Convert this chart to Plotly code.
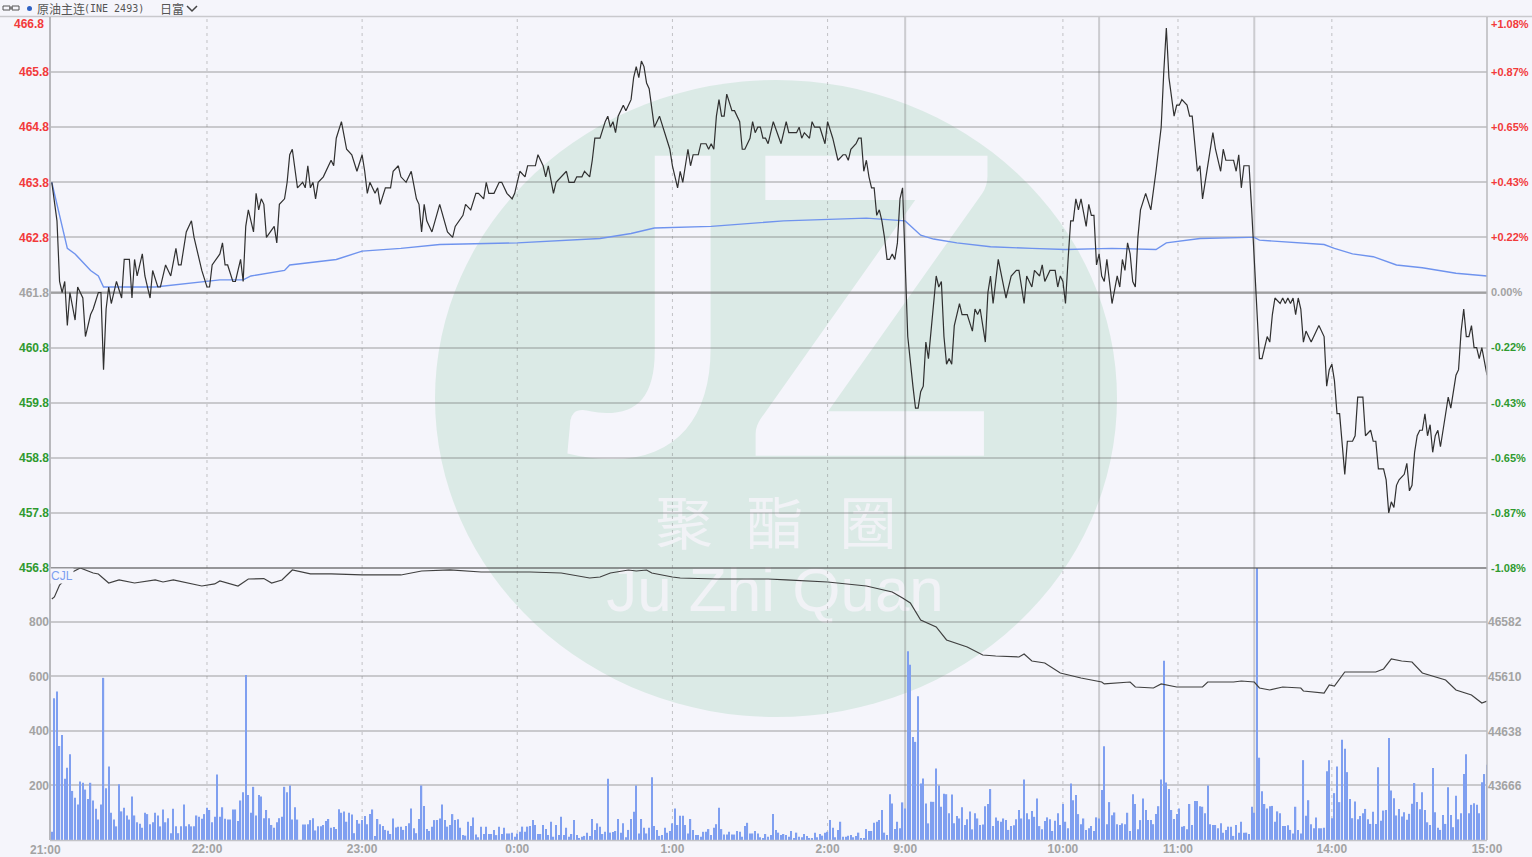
import plotly.graph_objects as go

BG = "#f5f5fb"
RED = "#f23a3a"
GREEN = "#2f9a2f"
GREY = "#a3a3a3"

price_min = [0,2,3,4,5,6,7,9,10,12,13,15,16,18,19,20,21,22,23,25,27,28,30,31,32,33,35,36,38,39,41,42,44,46,48,49,50,52,54,55,58,60,61,62,65,66,67,68,70,71,73,74,75,76,78,79,80,81,82,83,86,87,88,90,91,92,93,95,97,98,99,100,
 101,102,103,105,108,109,110,112,114,116,118,120,121,122,123,125,126,127,129,131,132,134,135,137,139,141,142,143,144,145,147,150,153,155,156,159,160,162,164,165,167,168,169,171,173,174,176,178,179,181,183,184,187,188,190,191,192,194,195,197,199,200,202,203,205,206,208,209,210,212,
 214,215,216,217,218,219,221,222,224,225,226,227,228,229,230,231,232,233,235,237,239,240,242,243,244,245,246,247,248,250,251,253,254,255,256,257,258,259,260,261,263,264,266,267,268,270,271,272,273,274,275,276,277,279,282,284,285,288,289,290,291,293,294,295,297,299,300,302,303,304,306,307,308,309,311,312,313,314,315,316,317,318,319,320,321,322,323,324,325,326,327,328,329,
 330,331,333,334,335,336,337,338,339,340,342,343,344,345,346,347,348,349,351,352,354,356,357,358,359,361,362,363,364,366,369,371,373,374,376,377,379,380,382,383,384,386,388,389,390,391,392,393,394,395,396,397,398,400,401,402,403,404,405,406,407,408,410,412,413,414,415,416,417,418,419,420,421,423,425,427,429,430,431,432,433,434,435,436,437,439,440,441,443,444,445,447,449,450,452,453,454,457,458,459,460,461,463,464,
 465,466,467,468,470,471,472,473,475,476,477,478,479,480,481,482,483,484,485,487,490,492,493,494,495,496,497,498,499,500,501,503,504,505,507,508,510,511,512,513,515,516,517,518,519,520,521,523,524,525,526,527,528,529,530,531,532,533,534,535,536,537,539,540,541,543,544,545,546,547,548,549,550,551,552,553,555]
price_val = [463.8,463.1,462.0,461.8,462.0,461.2,461.8,461.3,461.9,461.7,461.0,461.4,461.5,461.8,461.8,460.4,461.5,461.9,461.6,462.0,461.7,462.4,462.4,461.7,462.4,462.1,462.5,462.1,461.7,462.2,461.9,461.9,462.3,462.1,462.6,462.3,462.3,462.9,463.1,462.8,462.2,461.9,461.9,462.3,462.5,462.7,462.3,462.3,462.0,462.0,462.4,462.0,463.0,463.3,462.9,463.6,463.3,463.5,463.4,462.8,463.0,462.7,463.4,463.5,463.8,464.3,464.4,463.7,463.8,463.7,464.1,463.7,
 463.8,463.5,463.8,463.9,464.2,464.1,464.6,464.9,464.4,464.3,464.0,464.3,464.0,463.6,463.8,463.6,463.7,463.4,463.7,463.7,464.0,464.1,463.9,463.8,464.0,463.5,463.4,462.9,463.4,463.1,462.9,463.4,462.9,462.8,463.0,463.2,463.4,463.3,463.6,463.6,463.5,463.8,463.6,463.6,463.8,463.8,463.6,463.5,463.6,464.0,463.9,464.1,464.1,464.3,464.1,463.9,464.1,463.6,463.8,463.9,464.0,463.8,463.8,463.9,463.9,464.0,463.9,464.2,464.6,464.6,
 464.9,465.0,464.8,464.9,464.7,465.0,465.2,465.1,465.3,465.7,465.9,465.7,466.0,465.9,465.6,465.5,465.1,464.8,465.0,464.7,464.4,464.1,463.7,464.0,463.8,464.1,464.4,464.1,464.3,464.3,464.5,464.5,464.4,464.5,464.4,465.0,465.3,465.0,465.0,465.4,465.1,465.1,464.9,464.4,464.4,464.6,464.9,464.7,464.8,464.8,464.6,464.6,464.5,464.9,464.5,464.9,464.7,464.7,464.8,464.6,464.7,464.6,464.9,464.8,464.8,464.5,464.9,464.6,464.4,464.2,464.3,464.3,464.2,464.4,464.5,464.6,464.6,464.0,464.2,463.9,463.7,463.7,463.2,463.3,463.1,462.8,462.4,462.4,462.5,462.4,462.7,463.5,463.7,
 462.3,461.0,460.1,459.7,459.7,460.0,460.1,460.9,460.6,461.1,462.1,461.9,462.0,461.0,460.5,460.6,460.5,461.2,461.6,461.4,461.4,461.1,461.5,461.4,461.5,460.9,461.8,462.1,461.6,462.4,461.7,462.1,462.2,462.2,461.6,462.1,461.9,462.2,462.1,462.3,462.0,462.2,462.2,461.9,462.1,462.0,461.6,462.4,463.1,463.1,463.5,463.3,463.5,463.0,463.4,463.2,463.2,462.3,462.5,462.1,462.0,462.4,461.6,462.1,461.9,462.4,462.2,462.7,462.5,462.0,461.9,462.8,463.3,463.6,463.3,464.0,464.8,465.8,466.6,465.7,465.3,465.0,465.2,465.2,465.3,465.2,465.0,465.0,464.0,464.1,463.5,464.1,464.7,464.4,464.0,464.4,464.2,464.2,464.0,464.3,463.7,464.1,464.1,463.3,
 462.4,461.4,460.6,460.6,461.0,460.9,461.4,461.7,461.6,461.7,461.6,461.7,461.6,461.7,461.4,461.7,461.5,460.9,461.1,460.9,461.2,461.0,460.1,460.4,460.5,460.2,459.6,459.6,459.0,458.5,459.1,459.1,459.2,459.9,459.9,459.2,459.3,459.1,459.1,458.6,458.6,458.4,457.8,458.0,457.9,458.3,458.4,458.5,458.7,458.2,458.3,458.9,459.2,459.3,459.3,459.6,459.2,459.4,458.9,459.2,459.3,459.0,459.6,459.9,459.7,460.3,460.4,461.1,461.5,461.0,461.0,461.2,460.8,460.8,460.6,460.8,460.3]

avg_min = [0,4,6,9,15,18,20,40,50,60,65,74,77,90,92,110,120,135,150,180,212,224,233,255,283,315,330,336,341,350,363,379,392,410,427,431,444,463,465,467,483,492,496,503,511,520,530,543,555]
avg_val = [463.8,463.0,462.6,462.5,462.2,462.1,461.9,461.9,461.95,462.0,462.03,462.03,462.1,462.2,462.3,462.4,462.55,462.6,462.67,462.7,462.78,462.87,462.97,463.0,463.1,463.15,463.1,462.84,462.77,462.7,462.63,462.6,462.58,462.6,462.58,462.7,462.78,462.8,462.8,462.75,462.7,462.67,462.6,462.5,462.45,462.3,462.25,462.15,462.1]

oi_min = [0,1,3,8,11,16,18,22,26,32,40,43,47,53,58,63,65,72,76,82,85,89,93,100,108,120,135,143,154,166,185,197,208,212,216,223,226,230,232,240,243,257,277,284,300,315,325,329,332,336,342,346,354,360,365,374,376,379,384,390,398,406,407,417,419,426,429,435,445,447,457,460,465,467,471,476,483,484,492,494,496,500,506,512,515,518,522,526,530,539,543,549,553,555]
oi_val = [46995,47030,47244,47475,47546,47457,47440,47279,47333,47279,47333,47297,47333,47279,47226,47262,47315,47226,47350,47358,47279,47333,47511,47440,47440,47422,47422,47493,47511,47475,47475,47457,47368,47386,47457,47510,47493,47510,47457,47386,47368,47350,47350,47333,47297,47226,47119,47012,46923,46621,46496,46265,46140,45998,45980,45962,46016,45891,45855,45677,45588,45517,45482,45517,45428,45410,45482,45428,45428,45517,45517,45535,45517,45410,45375,45428,45410,45357,45321,45464,45446,45695,45695,45695,45749,45927,45891,45873,45677,45553,45375,45286,45143,45179]

vol_a_start = 0
vol_a = [30,520,545,345,385,225,265,315,180,155,130,215,210,185,150,210,145,115,75,130,595,190,270,100,75,50,205,105,118,90,75,160,90,65,60,45,100,95,58,65,100,90,50,112,65,80,25,115,50,25,50,130,50,58,50,50,90,85,78,95,118,110,65,85,240,85,120,78,75,75,112,112,70,145,175,605,165,100,195,90,165,
 160,80,110,80,55,45,65,80,85,195,175,200,75,120,75]
vol_b_start = 97
vol_b = [57,57,58,73,80,35,50,50,55,70,77,45,48,40,113,100,105,67,100,94,25,73,60,73,88,58,95,112,15,77,58,51,37,34,22,79,46,49,49,37,51,61,116,43,25,77,200,125,40,33,49,73,73,79,130,73,49,55,95,73,76,45,18,16,67,51,83,20,10,49,22,49,22,22,37,18,49,22,45,24,24,27,12,24,30,49,30,49,51,73,55,22,22,55,40,18,67,12,55,18,85,18,45,12,22,73,18,6,12,15,27,15,77,37,61,49,22,30,225,27,29,33,77,27,61,10,37,77,104,200,24,77,45,24,45,230,51,37,15,18,45,27,33,61,116,55,89,89,55,24,77,37,18,18,12,30,30,40,18,45,58,118,40,20,20,30,20,20,33,30,12,51,63,24,24,33,24,10,6,22,12,18,95,37,27,18,22,18,12,33,6,27,12,10,22,15,6,6,27,10,22,16,27,30,73,45,10,37,67,12,12,16,18,10,15,27,5,6,40,33,33,63,67,73,110,27,18,168,134,40,67,43,138,116,57]
vol_c_start = 331
vol_c = [693,643,378,360,527,207,226,134,61,140,140,262,200,122,170,168,98,167,61,88,79,120,55,76,105,39,98,79,55,57,124,132,187,51,83,71,67,79,73,37,51,54,76,110,79,222,98,76,106,85,152,51,39,70,83,76,33,71,98,55,132,67,43,207,146,165,95,58,79,37,43,51,33,83,79,183,344,58,139,91,101,58,55,61,58,100,33,168,132,39,73,152,110,73,73,58,95,124,222]
vol_d_start = 430
vol_d = [658,211,187,110,77,95,116,49,51,39,132,55,143,143,124,122,98,200,58,55,55,43,61,27,37,49,49,15,55,27,67,27,27,22,122,100]
vol_e_start = 466
vol_e = [998,302,179,132,116,124,125,67,105,98,51,51,54,37,24,122,37,24,293,89,146,58,43,83,43,43,45,252,293]
vol_f_start = 495
vol_f = [80,172,270,139,368,335,249,150,80,141,76,88,98,114,76,59,104,59,267,71,108,110,374,182,153,90,114,86,102,74,96,133,209,139,113,175,110,65,55,264,102,45,37,92,59,194,92,47,162,76,98,242,315,98,129,135,129,98,212,242,276]

vol_runs = [(vol_a_start, vol_a), (vol_b_start, vol_b), (vol_c_start, vol_c),
            (vol_d_start, vol_d), (vol_e_start, vol_e), (vol_f_start, vol_f)]
vol_x, vol_y = [], []
for start, run in vol_runs:
    vol_x += [start + i for i in range(len(run))]
    vol_y += run

price_ticks = [456.8, 457.8, 458.8, 459.8, 460.8, 461.8, 462.8, 463.8, 464.8, 465.8]
pct_labels = ["-1.08%", "-0.87%", "-0.65%", "-0.43%", "-0.22%", "0.00%", "+0.22%", "+0.43%", "+0.65%", "+0.87%"]
vol_ticks = [200, 400, 600, 800]
oi_ticks = [43666, 44638, 45610, 46582]
hour_min = [60, 120, 180, 240, 300, 391, 435.5, 495]
session_min = [330, 405, 465]
time_vals = [60, 120, 180, 240, 300, 330, 391, 435.5, 495, 555]
time_text = ["22:00", "23:00", "0:00", "1:00", "2:00", "9:00", "10:00", "11:00", "14:00", "15:00"]


def px(x):
    return (x - 50) / 1437


def py(y):
    return (840 - y) / 823


def col(v, text):
    c = RED if v > 461.8 else (GREEN if v < 461.8 else GREY)
    return f'<span style="color:{c}"><b>{text}</b></span>'


fig = go.Figure()

# Watermark lives in the first subplot, so every grid line of the real panes passes over it
fig.add_trace(go.Scatter(x=[652, 873], y=[352, 352], mode="text", text=["J", "Z"], xaxis="x", yaxis="y",
                         textfont=dict(family="Lato", size=415, color=BG, weight="bold"),
                         textposition="middle center", hoverinfo="skip", showlegend=False, cliponaxis=False))
fig.add_trace(go.Scatter(x=[684, 775, 868], y=[530, 530, 530], mode="text", text=["聚", "酯", "圈"], xaxis="x", yaxis="y",
                         textfont=dict(family="Noto Sans CJK SC", size=57, color="#f1f2f6"),
                         textposition="middle center", hoverinfo="skip", showlegend=False, cliponaxis=False))
fig.add_trace(go.Scatter(x=[775], y=[595], mode="text", text=["Ju Zhi Quan"], xaxis="x", yaxis="y",
                         textfont=dict(family="Liberation Sans", size=62, color="#f1f2f6"),
                         textposition="middle center", hoverinfo="skip", showlegend=False, cliponaxis=False))

fig.add_trace(go.Scatter(x=avg_min, y=avg_val, mode="lines", xaxis="x2", yaxis="y2",
                         line=dict(color="#6f93ee", width=1.4), hoverinfo="skip", showlegend=False))
fig.add_trace(go.Scatter(x=price_min, y=price_val, mode="lines", xaxis="x2", yaxis="y5",
                         line=dict(color="#303030", width=1.2), hoverinfo="skip", showlegend=False))
fig.add_trace(go.Bar(x=vol_x, y=vol_y, xaxis="x2", yaxis="y3", width=0.5,
                     marker=dict(color="#7f9ff0", line=dict(width=0)), hoverinfo="skip", showlegend=False))
fig.add_trace(go.Scatter(x=oi_min, y=oi_val, mode="lines", xaxis="x2", yaxis="y4",
                         line=dict(color="#404040", width=1.2), hoverinfo="skip", showlegend=False))

GRID = "rgba(110,110,110,0.32)"
shapes = [dict(type="circle", xref="x", yref="y", x0=435, x1=1117, y0=80, y1=717,
               fillcolor="#dbeae6", line=dict(width=0), layer="below")]
for m in hour_min:
    for yr, lo, hi in (("y2", 456.8, 466.8), ("y3", 0, 998)):
        shapes.append(dict(type="line", xref="x2", yref=yr, x0=m, x1=m, y0=lo, y1=hi, layer="below",
                           line=dict(color="rgba(110,110,110,0.38)", width=1, dash="3px,4px")))
for m in session_min:
    for yr, lo, hi in (("y2", 456.8, 466.8), ("y3", 0, 998)):
        shapes.append(dict(type="line", xref="x2", yref=yr, x0=m, x1=m, y0=lo, y1=hi, layer="below",
                           line=dict(color="rgba(110,110,110,0.3)", width=2)))
shapes.append(dict(type="line", xref="x2", yref="y2", x0=-0.7, x1=555, y0=461.8, y1=461.8, layer="below",
                   line=dict(color="rgba(110,110,110,0.45)", width=2.5)))
# frame
shapes += [
    dict(type="line", xref="paper", yref="paper", x0=px(50), x1=px(1487), y0=py(568), y1=py(568), line=dict(color="rgba(90,90,90,0.62)", width=2)),
    dict(type="line", xref="paper", yref="paper", x0=px(0), x1=px(1532), y0=py(16.5), y1=py(16.5), line=dict(color="#c9c9cd", width=1.5)),
    dict(type="line", xref="paper", yref="paper", x0=px(50), x1=px(50), y0=py(17), y1=py(840), line=dict(color="#b8b8bc", width=2)),
    dict(type="line", xref="paper", yref="paper", x0=px(1487), x1=px(1487), y0=py(17), y1=py(840), line=dict(color="#b8b8bc", width=1.5)),
    dict(type="line", xref="paper", yref="paper", x0=px(50), x1=px(1487), y0=py(840.5), y1=py(840.5), line=dict(color="#c4c4c8", width=1.5)),
    # chain icon
    dict(type="rect", xref="paper", yref="paper", x0=px(3), x1=px(10), y0=py(6), y1=py(10), line=dict(color="#555", width=1)),
    dict(type="rect", xref="paper", yref="paper", x0=px(12), x1=px(19), y0=py(6), y1=py(10), line=dict(color="#555", width=1)),
    dict(type="line", xref="paper", yref="paper", x0=px(9), x1=px(13), y0=py(8), y1=py(8), line=dict(color="#555", width=1)),
    # status dot and chevron
    dict(type="circle", xref="paper", yref="paper", x0=px(27), x1=px(32), y0=py(6), y1=py(11), fillcolor="#2f62c4", line=dict(width=0)),
    dict(type="path", xref="paper", yref="paper",
         path=f"M {px(187)} {py(6)} L {px(192)} {py(11)} L {px(197)} {py(6)}", line=dict(color="#444", width=1.5)),
]

LABEL = dict(family="Liberation Sans", size=12)
annotations = [
    dict(xref="paper", yref="paper", x=px(46), y=py(24), text=f'<span style="color:{RED}"><b>466.8</b></span>',
         xanchor="right", yanchor="middle", showarrow=False, font=LABEL),
    dict(xref="paper", yref="paper", x=px(1489), y=py(24), text=f'<span style="color:{RED}"><b>+1.08%</b></span>',
         xanchor="left", yanchor="middle", showarrow=False, font=dict(family="Liberation Sans", size=11)),
    dict(xref="paper", yref="paper", x=px(45), y=py(850), text=f'<span style="color:{GREY}"><b>21:00</b></span>',
         xanchor="center", yanchor="middle", showarrow=False, font=LABEL),
    dict(xref="paper", yref="paper", x=px(50), y=py(576), text="CJL", xanchor="left", yanchor="middle", showarrow=False,
         bgcolor=BG, borderpad=0, font=dict(family="Liberation Sans", size=12, color="#7d9ff0")),
    dict(xref="paper", yref="paper", x=px(35), y=py(8), xanchor="left", yanchor="middle", showarrow=False,
         text="原油主连", font=dict(family="Noto Sans CJK SC", size=12, color="#555")),
    dict(xref="paper", yref="paper", x=px(82), y=py(8), xanchor="left", yanchor="middle", showarrow=False,
         text="(INE 2493)", font=dict(family="DejaVu Sans Mono", size=10, color="#555")),
    dict(xref="paper", yref="paper", x=px(158), y=py(8), xanchor="left", yanchor="middle", showarrow=False,
         text="日富", font=dict(family="Noto Sans CJK SC", size=12, color="#555")),
]

fig.update_layout(
    width=1532, height=857, autosize=False,
    margin=dict(l=50, r=45, t=17, b=17, pad=0),
    paper_bgcolor=BG, plot_bgcolor="rgba(0,0,0,0)",
    barmode="overlay", hovermode=False, showlegend=False,
    shapes=shapes, annotations=annotations,
    xaxis=dict(domain=[0, 1], range=[50, 1487], visible=False, fixedrange=True, automargin=False),
    yaxis=dict(domain=[0, 1], range=[840, 17], visible=False, fixedrange=True, automargin=False),
    xaxis2=dict(domain=[0, 1], range=[-0.7, 555], anchor="y3", showgrid=False, zeroline=False, showline=False, automargin=False,
                tickmode="array", tickvals=time_vals,
                ticktext=[f'<b>{t}</b>' for t in time_text],
                tickfont=dict(family="Liberation Sans", size=12, color=GREY), ticks="", tickangle=0, fixedrange=True),
    yaxis2=dict(domain=[272 / 823, 1], range=[456.8, 466.8], anchor="x2", side="left", automargin=False,
                tickmode="array", tickvals=price_ticks,
                ticktext=[col(v, f"{v:.1f}") for v in price_ticks],
                tickfont=LABEL, ticks="", showgrid=True, gridcolor=GRID, gridwidth=1.5, zeroline=False, fixedrange=True),
    yaxis5=dict(overlaying="y2", range=[456.8, 466.8], anchor="x2", side="right", automargin=False,
                tickmode="array", tickvals=price_ticks, ticklabelstandoff=3,
                ticktext=[col(v, t) for v, t in zip(price_ticks, pct_labels)],
                tickfont=dict(family="Liberation Sans", size=11), ticks="", showgrid=False, zeroline=False, fixedrange=True),
    yaxis3=dict(domain=[0, 272 / 823], range=[0, 998], anchor="x2", side="left", automargin=False,
                tickmode="array", tickvals=vol_ticks, ticktext=[f"<b>{v}</b>" for v in vol_ticks],
                tickfont=dict(family="Liberation Sans", size=12, color=GREY), ticks="",
                showgrid=True, gridcolor=GRID, gridwidth=1.5, zeroline=False, fixedrange=True),
    yaxis4=dict(overlaying="y3", range=[42705, 47546], anchor="x2", side="right", automargin=False,
                tickmode="array", tickvals=oi_ticks, ticktext=[f"<b>{v}</b>" for v in oi_ticks],
                tickfont=dict(family="Liberation Sans", size=12, color=GREY), ticks="",
                showgrid=False, zeroline=False, fixedrange=True),
)

fig.write_html("out.html", config=dict(displayModeBar=False),
               post_script="document.body.style.margin='0';document.body.style.overflow='hidden';")
